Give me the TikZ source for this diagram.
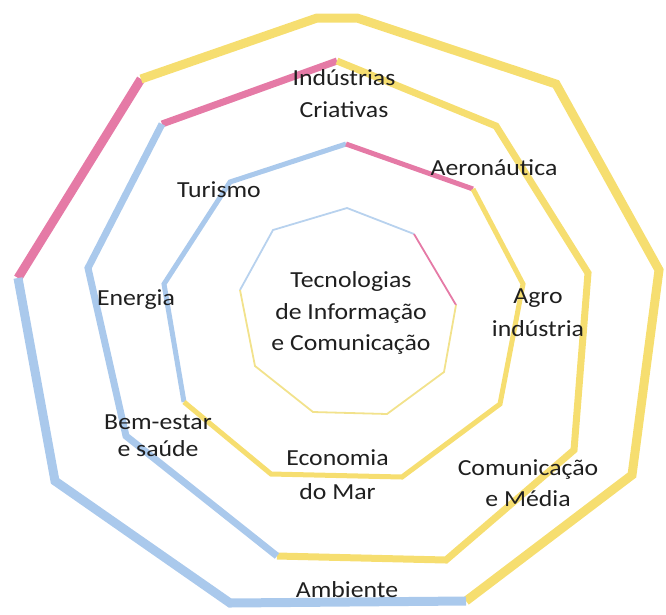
\documentclass[tikz,border=0pt]{standalone}
\usepackage{fontspec}
\setmainfont{Carlito}[FakeStretch=1.12]
\definecolor{ry}{RGB}{246,222,112}
\definecolor{rp}{RGB}{229,122,166}
\definecolor{rb}{RGB}{170,201,236}
\definecolor{ryl}{RGB}{242,226,140}
\definecolor{rbl}{RGB}{184,210,238}
\tikzset{
  ringA/.style={line width=9pt, line join=miter},
  ringB/.style={line width=7pt, line join=miter},
  ringC/.style={line width=5pt, line join=miter},
  ringD/.style={line width=1.8pt, line join=miter},
  lbl/.style={font=\fontsize{23}{31.5}\selectfont, align=center, inner sep=0pt, text=black!88},
}
\begin{document}
\begin{tikzpicture}[x=1pt,y=-1pt]
\useasboundingbox (0,0) rectangle (666,614);
% outer ring
\coordinate (o1) at (141,79);
\coordinate (o2) at (317,18);
\coordinate (o3) at (357,18);
\coordinate (o4) at (556,84);
\coordinate (o5) at (659,270);
\coordinate (o6) at (632,475);
\coordinate (o7) at (466,601);
\coordinate (o8) at (230,603);
\coordinate (o9) at (55,481);
\coordinate (o10) at (18,278);
\draw[ringA, rp] (o10) -- (o1);
\draw[ringA, ry] (o1) -- (o2) -- (o3) -- (o4) -- (o5) -- (o6) -- (o7);
\draw[ringA, rb] (o7) -- (o8) -- (o9) -- (o10);
% second ring
\coordinate (s1) at (162,124);
\coordinate (s2) at (337,61);
\coordinate (s3) at (496,126);
\coordinate (s4) at (588,273);
\coordinate (s5) at (574,450);
\coordinate (s6) at (446,560);
\coordinate (s7) at (277,556);
\coordinate (s8) at (126,436);
\coordinate (s9) at (88,268);
\draw[ringB, rp] (s1) -- (s2);
\draw[ringB, ry] (s2) -- (s3) -- (s4) -- (s5) -- (s6) -- (s7);
\draw[ringB, rb] (s7) -- (s8) -- (s9) -- (s1);
% third ring
\coordinate (t1) at (230,182);
\coordinate (t2) at (346,144);
\coordinate (t3) at (473,189);
\coordinate (t4) at (523,284);
\coordinate (t5) at (500,404);
\coordinate (t6) at (402,477);
\coordinate (t7) at (271,474);
\coordinate (t8) at (184,402);
\coordinate (t9) at (164,284);
\draw[ringC, rb] (t8) -- (t9) -- (t1) -- (t2);
\draw[ringC, rp] (t2) -- (t3);
\draw[ringC, ry] (t3) -- (t4) -- (t5) -- (t6) -- (t7) -- (t8);
% inner ring
\coordinate (i1) at (273,230);
\coordinate (i2) at (347,208);
\coordinate (i3) at (414,234);
\coordinate (i4) at (456,305);
\coordinate (i5) at (444,372);
\coordinate (i6) at (387,414);
\coordinate (i7) at (313,412);
\coordinate (i8) at (255,366);
\coordinate (i9) at (240,290);
\draw[ringD, rbl] (i9) -- (i1) -- (i2) -- (i3);
\draw[ringD, rp] (i3) -- (i4);
\draw[ringD, ryl] (i4) -- (i5) -- (i6) -- (i7) -- (i8) -- (i9);
% labels
\node[lbl] (ic) at (344,93.6) {Indústrias\\Criativas};
\node[lbl, anchor=base] (aero) at (494,175) {Aeronáutica};
\node[lbl, anchor=base] (tur) at (219,197) {Turismo};
\node[lbl, anchor=base] (ene) at (136,305) {Energia};
\node[lbl] (tic) at (351,313) {Tecnologias\\de Informação\\e Comunicação};
\node[lbl, font=\fontsize{23}{33}\selectfont] (agro) at (538,313) {Agro\\indústria};
\node[lbl, font=\fontsize{23}{27}\selectfont] (bem) at (158,436) {Bem-estar\\e saúde};
\node[lbl, font=\fontsize{23}{34}\selectfont] (eco) at (337.5,474.6) {Economia\\do Mar};
\node[lbl, font=\fontsize{23}{31}\selectfont] (com) at (528,483) {Comunicação\\e Média};
\node[lbl, anchor=base] (amb) at (347,597) {Ambiente};
\end{tikzpicture}
\end{document}
